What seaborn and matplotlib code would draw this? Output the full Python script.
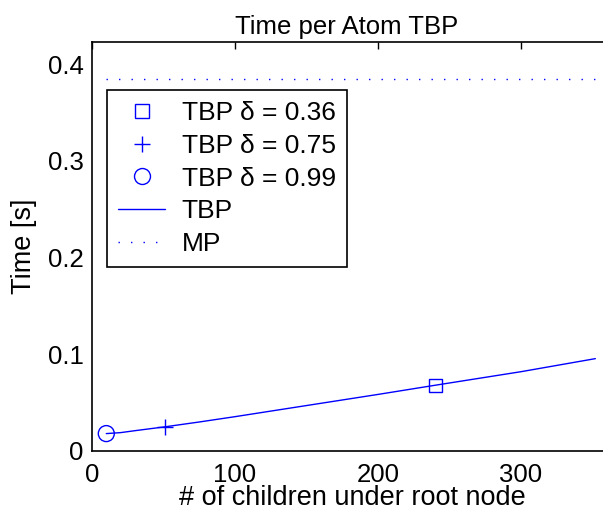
import matplotlib
matplotlib.use("Agg")
import matplotlib.pyplot as plt
import seaborn as sns
import pandas as pd
from matplotlib.lines import Line2D
from matplotlib.ticker import FuncFormatter

# ---- data ----
tbp_x = [10, 20, 30, 51, 75, 100, 150, 200, 240, 300, 352]
tbp_y = [0.0180, 0.0190, 0.0210, 0.0250, 0.0300, 0.0355, 0.0470, 0.0585, 0.0680, 0.0820, 0.0955]
mp_x = [10, 352]
mp_y = [0.385, 0.385]
m36_x, m36_y = [240], [0.068]
m75_x, m75_y = [51], [0.025]
m99_x, m99_y = [10], [0.018]
legend_labels = ["TBP \u03b4 = 0.36", "TBP \u03b4 = 0.75", "TBP \u03b4 = 0.99", "TBP", "MP"]
x_ticks = [0, 100, 200, 300]
y_ticks = [0, 0.1, 0.2, 0.3, 0.4]

sns.set_style("white")
plt.rcParams['font.family'] = ['Liberation Sans', 'DejaVu Sans']
plt.rcParams['text.color'] = 'black'
plt.rcParams['axes.labelcolor'] = 'black'
plt.rcParams['xtick.color'] = 'black'
plt.rcParams['ytick.color'] = 'black'
plt.rcParams['xtick.direction'] = 'in'
plt.rcParams['ytick.direction'] = 'in'

FS = 18.5
BLUE = (0, 0, 1)

# axes extend slightly past the right edge of the figure (as in the reference)
left_px, right_px = 92, 612
fig = plt.figure(figsize=(6.03, 5.13), dpi=100)
ax = fig.add_axes([left_px/603, 62/513, (right_px - left_px)/603, (451 - 42.3)/513])

tbp = pd.DataFrame({"x": tbp_x, "y": tbp_y})
mp = pd.DataFrame({"x": mp_x, "y": mp_y})
sns.lineplot(data=tbp, x="x", y="y", ax=ax, color=BLUE, linewidth=1.0, sort=False)
sns.lineplot(data=mp, x="x", y="y", ax=ax, color=BLUE, linewidth=1.0, sort=False,
             linestyle=(0, (1, 8)))

sns.scatterplot(x=m36_x, y=m36_y, ax=ax, marker='s', s=9.5**2, facecolor='none',
                edgecolor=BLUE, linewidth=1.0, zorder=5)
sns.scatterplot(x=m75_x, y=m75_y, ax=ax, marker='+', s=11.5**2, color=BLUE,
                linewidth=1.0, zorder=5)
sns.scatterplot(x=m99_x, y=m99_y, ax=ax, marker='o', s=11.5**2, facecolor='none',
                edgecolor=BLUE, linewidth=1.0, zorder=5)

ax.set_xlim(0, (right_px - left_px) / 1.43)
ax.set_ylim(0, 0.4226)
ax.set_xticks(x_ticks)
ax.set_yticks(y_ticks)
ax.yaxis.set_major_formatter(FuncFormatter(lambda v, p: f"{v:g}"))
ax.tick_params(axis='both', which='both', direction='in', length=5, width=1,
               labelsize=FS, top=True, right=True, colors='black')
ax.tick_params(axis='x', pad=9)
ax.tick_params(axis='y', pad=6)
for s in ax.spines.values():
    s.set_visible(True)
    s.set_color('black')
    s.set_linewidth(1.2)

ax.set_xlabel("# of children under root node", fontsize=19.5, labelpad=-1.5)
ax.set_ylabel("Time [s]", fontsize=19.5, labelpad=8)
ax.set_title("Time per Atom TBP", fontsize=FS, pad=6, x=(347 - left_px) / (right_px - left_px))

handles = [
    Line2D([], [], color=BLUE, marker='s', linestyle='none', markersize=9.5,
           markerfacecolor='none', markeredgewidth=1.0),
    Line2D([], [], color=BLUE, marker='+', linestyle='none', markersize=11.5,
           markeredgewidth=1.0),
    Line2D([], [], color=BLUE, marker='o', linestyle='none', markersize=11.5,
           markerfacecolor='none', markeredgewidth=1.0),
    Line2D([], [], color=BLUE, linewidth=1.0),
    Line2D([], [], color=BLUE, linewidth=1.0, linestyle=(0, (1, 8))),
]
leg = ax.legend(handles, legend_labels, loc='upper left',
                bbox_to_anchor=(106.7/603, 1 - 90/513), bbox_transform=fig.transFigure,
                fontsize=19, frameon=True, fancybox=False, framealpha=1,
                edgecolor='black', borderpad=0.42, labelspacing=0.33,
                handlelength=1.8, handletextpad=0.62, borderaxespad=0)
leg.get_frame().set_linewidth(1.2)

fig.savefig("out.png", dpi=100)
